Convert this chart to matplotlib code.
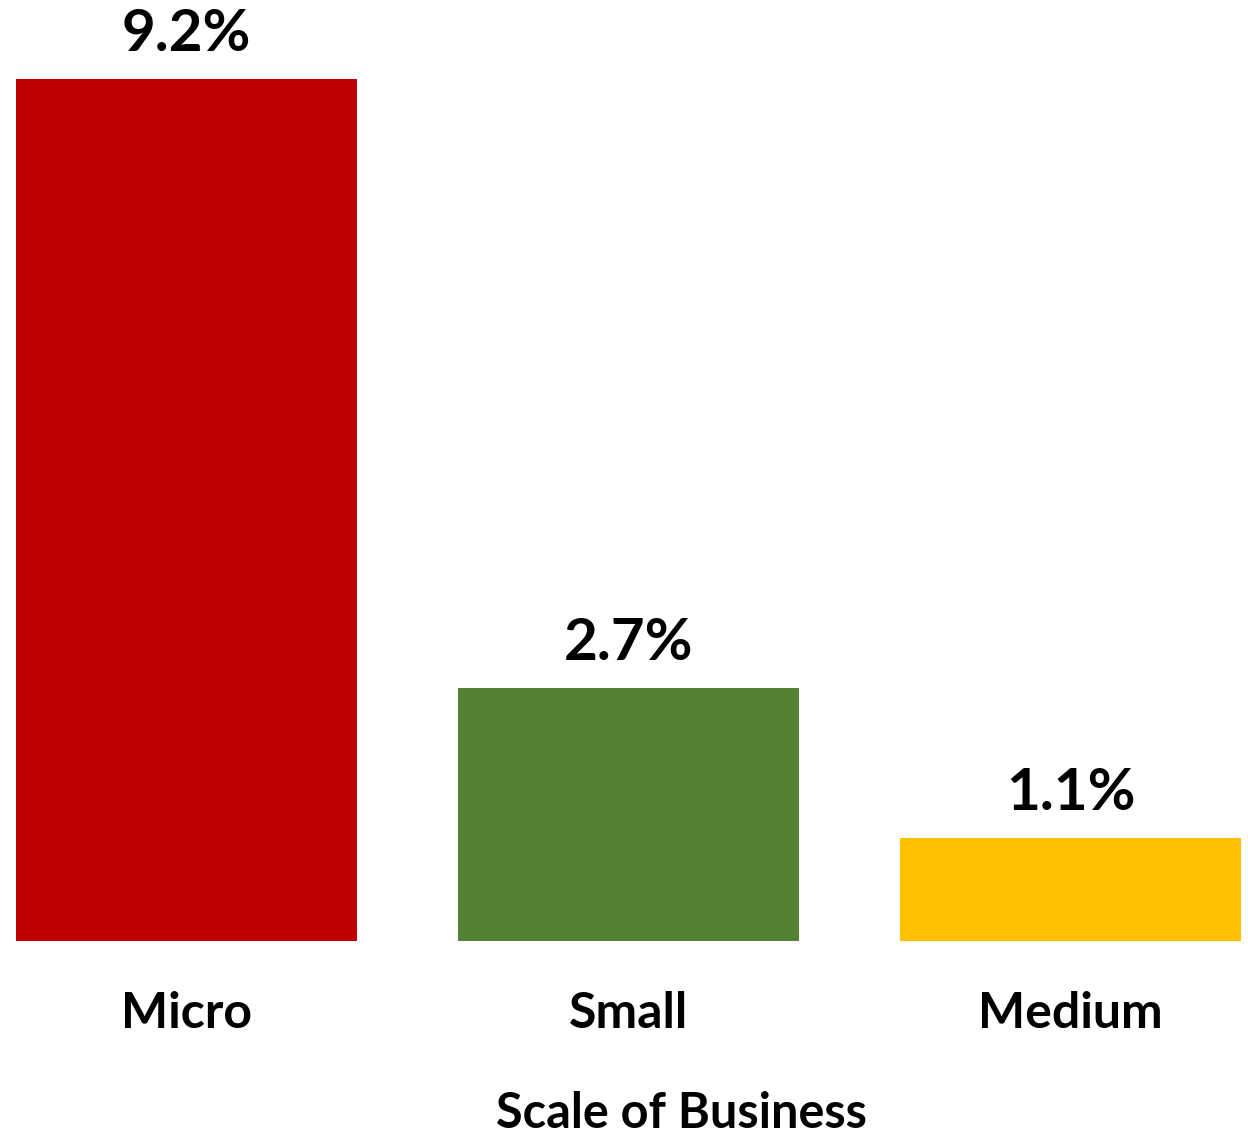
import matplotlib
matplotlib.use("Agg")
import matplotlib.pyplot as plt

categories = ["Micro", "Small", "Medium"]
values = [9.2, 2.7, 1.1]
labels = ["9.2%", "2.7%", "1.1%"]
colors = ["#C00000", "#548235", "#FFC000"]
xlabel = "Scale of Business"

plt.rcParams['font.family'] = ['Lato', 'DejaVu Sans']

fig = plt.figure(figsize=(12.48, 11.32), dpi=100)
ax = fig.add_axes([0, (1132-941)/1132, 1, 941/1132])
x = list(range(len(categories)))
bars = ax.bar(x, values, width=0.77, color=colors)
ax.set_xlim(-0.422, 2.4016)
ax.set_ylim(0, 10.04)
for xi, v, lab in zip(x, values, labels):
    ax.annotate(lab, (xi, v), xytext=(0, 20), textcoords="offset points",
                ha="center", va="baseline", fontsize=42, fontweight="bold", color="black")
for s in ax.spines.values():
    s.set_visible(False)
ax.set_yticks([])
ax.set_xticks(x)
ax.set_xticklabels(categories, fontsize=36, fontweight="bold")
ax.tick_params(axis="x", length=0, pad=36)
fig.text(681/1248, 4/1132, xlabel, ha="center", va="baseline",
         fontsize=35, fontweight="bold", color="black")
fig.savefig("out.png", dpi=100)
